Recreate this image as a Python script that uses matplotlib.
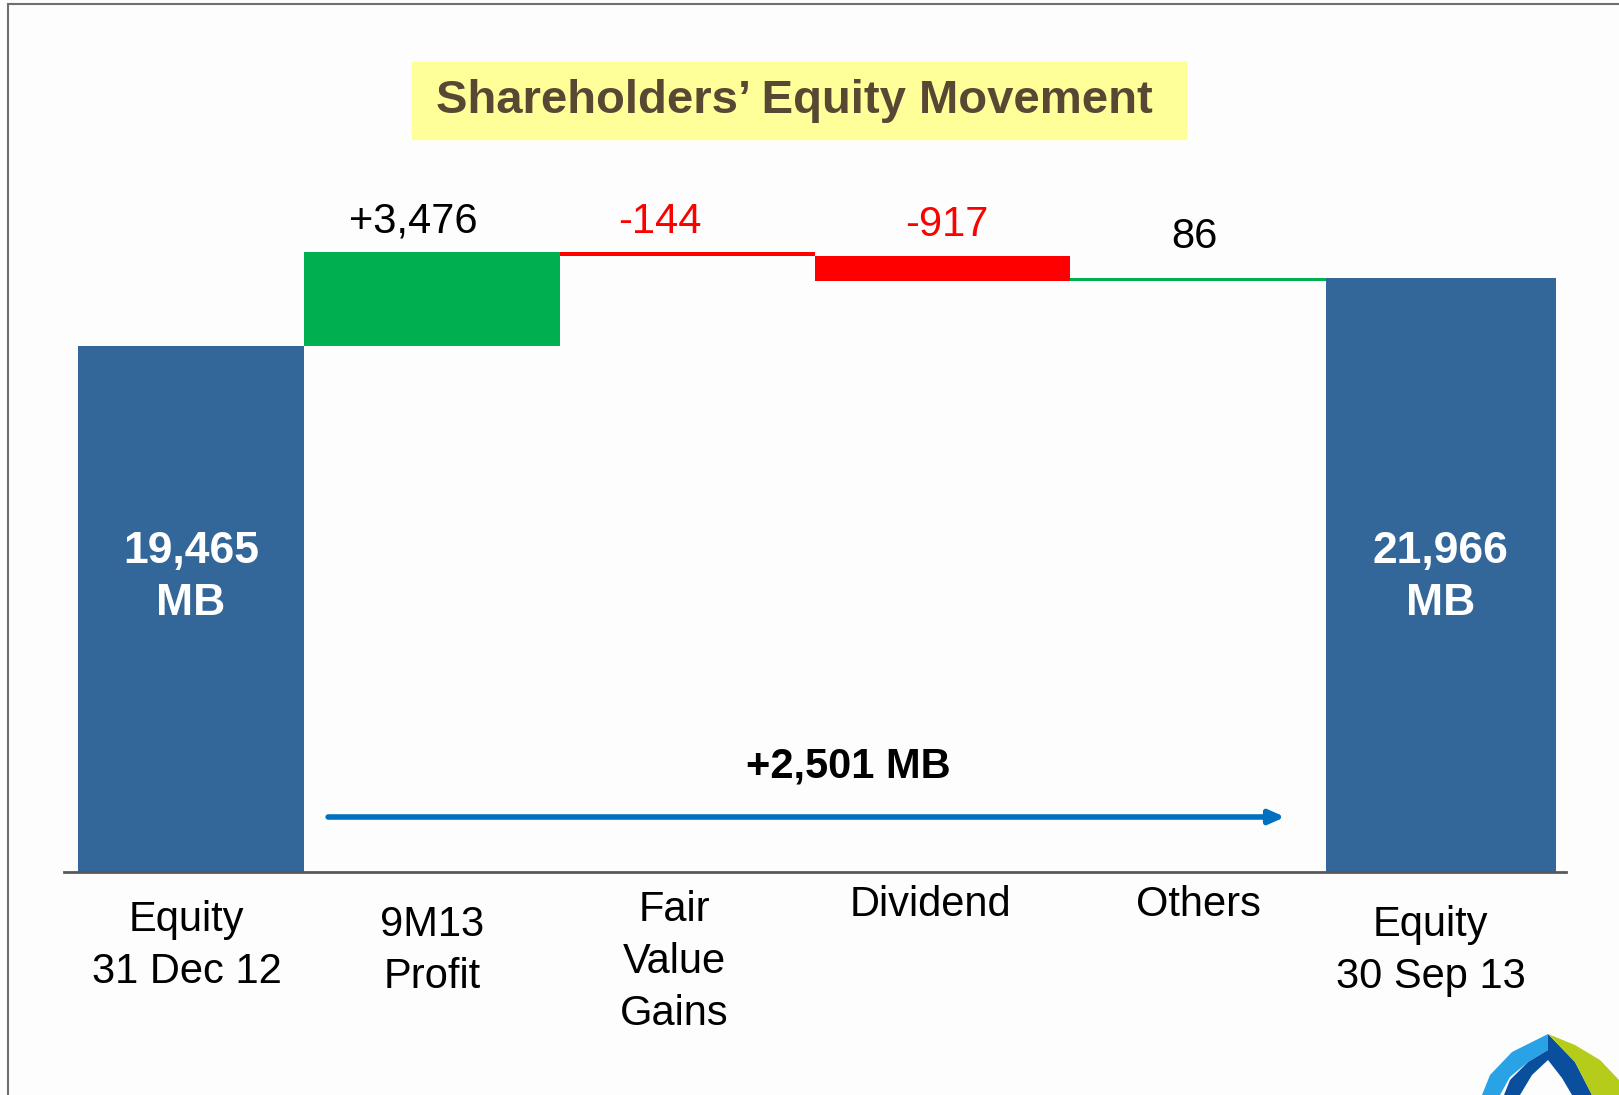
import numpy as np
import matplotlib.pyplot as plt
from matplotlib.patches import Rectangle, Polygon

plt.rcParams['font.family'] = ['Liberation Sans', 'DejaVu Sans']

# Data (MB)
categories = ["Equity\n31 Dec 12", "9M13\nProfit", "Fair\nValue\nGains",
              "Dividend", "Others", "Equity\n30 Sep 13"]
start_equity = 19465
movements = [3476, -144, -917, 86]
end_equity = 21966
move_labels = ["+3,476", "-144", "-917", "86"]
move_label_colors = ["black", "red", "red", "black"]
total_label = "+2,501 MB"

W, H = 1619, 1095
fig = plt.figure(figsize=(W / 100, H / 100), dpi=100)
fig.patch.set_facecolor('#fdfdfd')

ax = fig.add_axes([64 / W, 223 / H, 1502 / W, 672 / H])
ax.set_facecolor('none')
ax.set_xlim(-0.44, 5.44)
ax.set_ylim(0, 24870)
for s in ['top', 'right', 'left']:
    ax.spines[s].set_visible(False)
ax.spines['bottom'].set_color('#595959')
ax.spines['bottom'].set_linewidth(2)
ax.set_xticks([])
ax.set_yticks([])

blue = '#33679a'
green = '#00b050'
red = '#ff0000'

# opening / closing equity bars
ax.bar(0.5, start_equity, width=-0.885, align='edge', color=blue)
ax.bar(4.5, end_equity, width=0.9, align='edge', color=blue)

# floating movement bars
level = start_equity
label_dx = [-13, -20, 3, -3]
label_dy = [22, 22, 22, 30]
for i, mv in enumerate(movements):
    x = i + 1
    bottom = level if mv > 0 else level + mv
    ax.bar(x, abs(mv), bottom=bottom, width=1.0, color=green if mv > 0 else red)
    top = max(level, level + mv)
    ax.annotate(move_labels[i], xy=(x, top), xytext=(label_dx[i], label_dy[i]),
                textcoords='offset points', ha='center', va='center',
                fontsize=30, color=move_label_colors[i])
    level += mv

# values inside the equity bars
for x, val in [(-0.385 + 0.4425, start_equity), (4.95, end_equity)]:
    ax.text(x, start_equity * 0.56, f"{val:,}\nMB", ha='center', va='center',
            fontsize=32, fontweight='bold', color='white', linespacing=1.35)

# category labels below the axis
label_offsets = [53, 57, 65, 24, 24, 57]
label_x = [0.04, 1.0, 1.95, 2.95, 4.0, 4.91]
for i, cat in enumerate(categories):
    ax.annotate(cat, xy=(label_x[i], 0), xytext=(0, -label_offsets[i]),
                textcoords='offset points', ha='center', va='center',
                fontsize=30, color='black', linespacing=1.38, annotation_clip=False)

# total change arrow
trans = ax.get_xaxis_transform()
ax.annotate('', xy=(4.34, 55 / 672), xytext=(0.594, 55 / 672), xycoords=trans,
            arrowprops=dict(arrowstyle='-|>,head_length=0.9,head_width=0.4',
                            color='#0070c0', lw=4, shrinkA=0, shrinkB=0))
ax.text(2.63, 106 / 672, total_label, transform=trans, ha='center', va='center',
        fontsize=30, fontweight='bold', color='black')

# title with yellow box
fig.patches.append(Rectangle((412 / W, 1 - 139 / H), 774 / W, 77 / H,
                             transform=fig.transFigure, color='#ffff99', zorder=0))
fig.text(794 / W, 1 - 101 / H, "Shareholders\u2019 Equity Movement", ha='center', va='center',
         fontsize=34, fontweight='bold', color='#574733')

# slide frame
fig.add_artist(plt.Line2D([8 / W, 8 / W], [0, 1 - 4 / H], transform=fig.transFigure,
                          color='#6e6e6e', lw=1.5))
fig.add_artist(plt.Line2D([8 / W, 1], [1 - 4 / H, 1 - 4 / H], transform=fig.transFigure,
                          color='#6e6e6e', lw=1.5))

# rough logo in the corner
def px(pts):
    return [(x / W, 1 - y / H) for x, y in pts]

logo = [
    ('#29a3e6', [(1548, 1034), (1512, 1052), (1490, 1075), (1482, 1095), (1500, 1095),
                 (1510, 1077), (1528, 1062), (1548, 1050)]),
    ('#0a4f9e', [(1548, 1034), (1548, 1050), (1528, 1062), (1510, 1080), (1504, 1095),
                 (1520, 1095), (1532, 1075), (1548, 1060), (1562, 1078), (1572, 1095),
                 (1592, 1095), (1575, 1062)]),
    ('#b5cc1a', [(1548, 1034), (1575, 1062), (1592, 1095), (1619, 1095), (1619, 1080),
                 (1600, 1060), (1575, 1045)]),
]
for col, pts in logo:
    fig.patches.append(Polygon(px(pts), closed=True, transform=fig.transFigure,
                               facecolor=col, edgecolor='none'))

fig.savefig('out.png', dpi=100, facecolor=fig.get_facecolor())
